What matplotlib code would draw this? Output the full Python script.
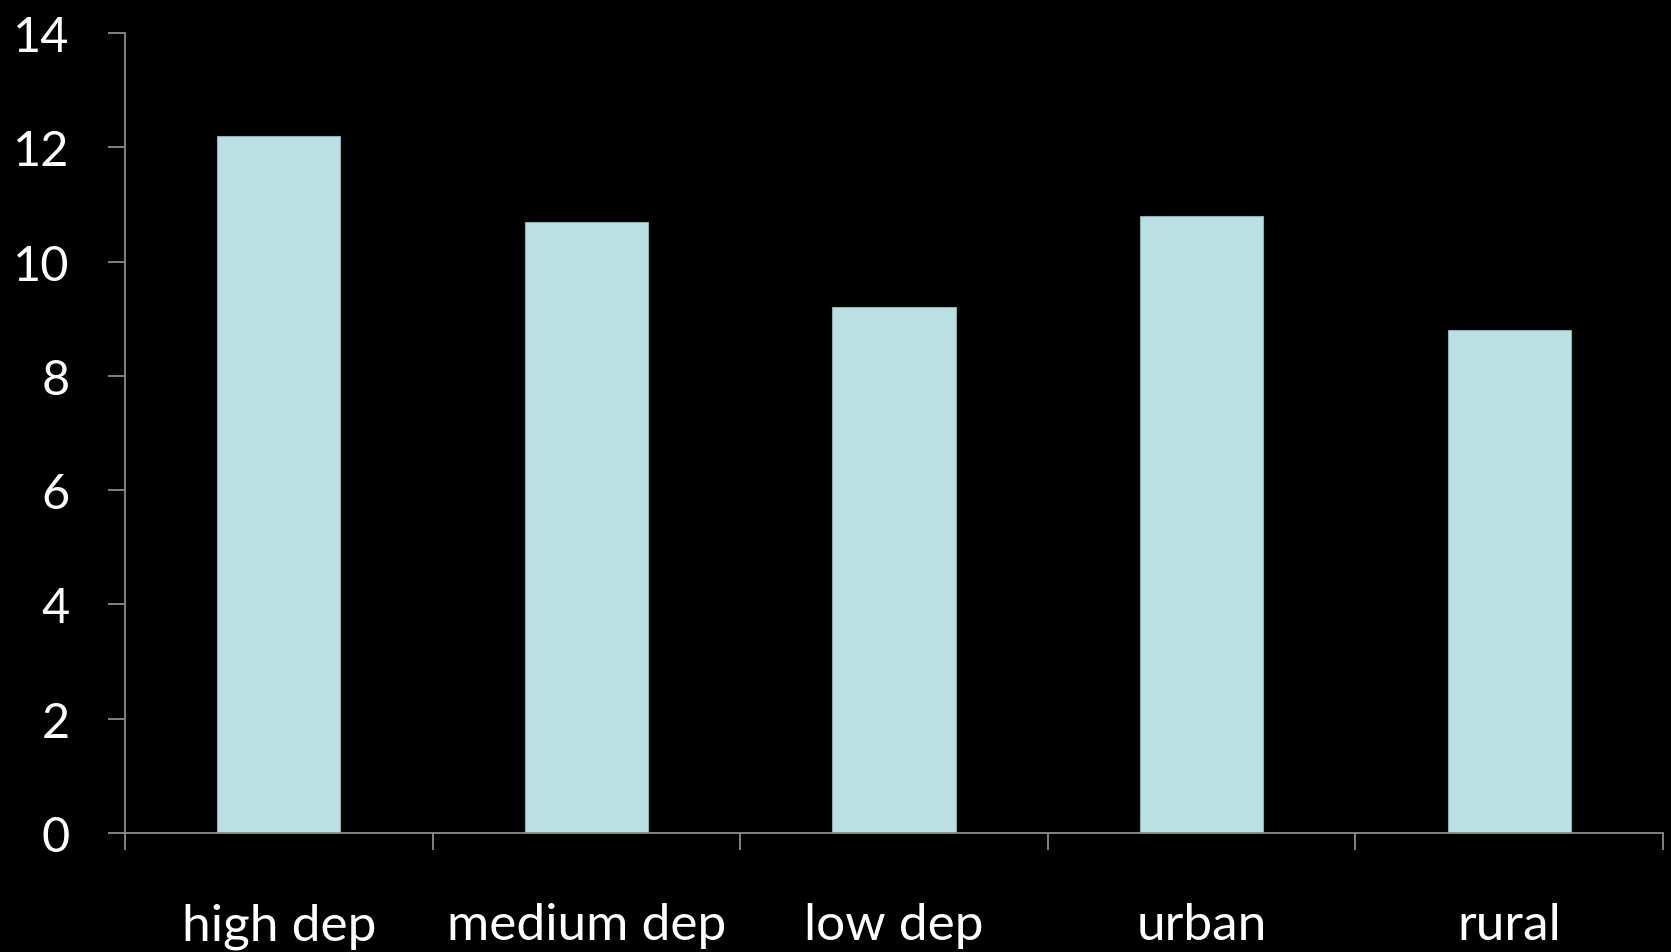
import matplotlib.pyplot as plt
import numpy as np

# Chart data
categories = ['high dep', 'medium dep', 'low dep', 'urban', 'rural']
values = [12.2, 10.7, 9.2, 10.8, 8.8]
y_ticks = [0, 2, 4, 6, 8, 10, 12, 14]

plt.rcParams['font.family'] = ['Lato', 'DejaVu Sans']

fig = plt.figure(figsize=(16.71, 9.53), dpi=100, facecolor='black')
ax = fig.add_axes([0.0748, 0.1249, 0.9204, 0.8394])
ax.set_facecolor('black')

x = np.arange(len(categories))
ax.bar(x, values, width=0.4, color='#bbe0e3', edgecolor='#8fb0b3', linewidth=0.8, zorder=2)

ax.set_xlim(-0.5, len(categories) - 0.5)
ax.set_ylim(0, 14)

# Category boundaries carry the tick marks, centres carry the labels
ax.set_xticks(np.arange(-0.5, len(categories), 1.0))
ax.set_xticklabels([])
ax.set_xticks(x, minor=True)
ax.set_xticklabels(categories, minor=True)
ax.tick_params(axis='x', which='major', length=12, width=1.3, color='#8c8c8c', direction='out')
ax.tick_params(axis='x', which='minor', length=0, pad=50, labelsize=37, labelcolor='white')

ax.set_yticks(y_ticks)
ax.tick_params(axis='y', length=12, width=1.3, color='#8c8c8c', pad=28, labelsize=35, labelcolor='white')
for lab in ax.get_yticklabels():
    lab.set_y(lab.get_position()[1])
    lab.set_verticalalignment('center_baseline')

for side in ['top', 'right']:
    ax.spines[side].set_visible(False)
for side in ['left', 'bottom']:
    ax.spines[side].set_color('#8c8c8c')
    ax.spines[side].set_linewidth(1.3)

fig.savefig('out.png', dpi=100, facecolor='black')
